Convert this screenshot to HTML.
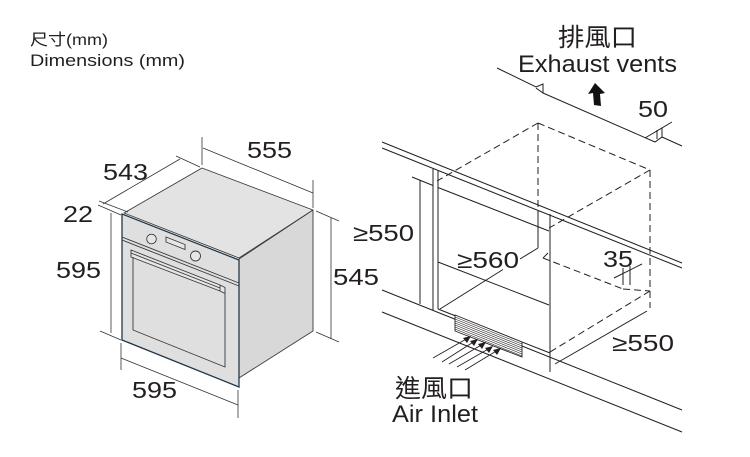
<!DOCTYPE html>
<html>
<head>
<meta charset="utf-8">
<style>
  html,body{margin:0;padding:0;background:#fff;}
  svg{display:block;}
  text{font-family:"Liberation Sans","Noto Sans CJK TC",sans-serif;fill:#231f20;}
</style>
</head>
<body>
<svg width="750" height="457" viewBox="0 0 750 457" xmlns="http://www.w3.org/2000/svg">
  <!-- Header -->
  <text x="30" y="45" font-size="16" textLength="78" lengthAdjust="spacingAndGlyphs">尺寸(mm)</text>
  <text x="30" y="66" font-size="17" textLength="155" lengthAdjust="spacingAndGlyphs">Dimensions (mm)</text>

  <!-- ===== OVEN ===== -->
  <g stroke="#3a3a3a" stroke-width="0.9" stroke-linejoin="round">
    <polygon points="124,213 202,168 313,210 239,258" fill="#e3e3e3"/>
    <polygon points="239,259 313,210 313,331 239,378" fill="#d8d8d8"/>
  </g>
  <polygon points="122,214 239,260 239,387 122,340" fill="#dfdfdf" stroke="#23384a" stroke-width="1.3"/>
  <g stroke="#3a3a3a" stroke-width="0.9" fill="none">
    <!-- control divider double line -->
    <line x1="122" y1="237" x2="239" y2="283"/>
    <line x1="122" y1="240" x2="239" y2="286"/>
    <!-- knobs -->
    <circle cx="151.5" cy="239" r="4.8" fill="#e6e6e6"/>
    <circle cx="195.5" cy="256" r="5" fill="#e6e6e6"/>
    <!-- display -->
    <polygon points="166,237 185,244.5 185,249.5 166,242" fill="#e6e6e6"/>
    <!-- handle -->
    <polygon points="131,250 220,285 225,287.5 225,293.5 220,291 131,257" fill="#e6e6e6"/>
    <line x1="220" y1="285" x2="220" y2="291"/>
    <line x1="131" y1="253" x2="220" y2="288"/>
    <!-- door -->
    <polyline points="133,257 133,330 225,367 225,294"/>
  </g>

  <!-- oven dimension lines -->
  <g stroke="#333" stroke-width="0.8" fill="none">
    <!-- 543 -->
    <line x1="103" y1="204" x2="180" y2="159"/>
    <line x1="176" y1="156" x2="200" y2="167"/>
    <!-- 22 -->
    <line x1="99" y1="201" x2="128" y2="212"/>
    <line x1="98" y1="205" x2="121" y2="215"/>
    <!-- 595 left -->
    <line x1="111" y1="213" x2="111" y2="333"/>
    <line x1="100" y1="331" x2="121" y2="340"/>
    <!-- 555 -->
    <line x1="203" y1="148" x2="313" y2="193"/>
    <line x1="202" y1="137" x2="202" y2="165"/>
    <line x1="313" y1="180" x2="313" y2="208"/>
    <!-- 545 -->
    <line x1="316" y1="211" x2="339" y2="221"/>
    <line x1="316" y1="332" x2="339" y2="342"/>
    <line x1="331" y1="218" x2="331" y2="339"/>
    <!-- 595 bottom -->
    <line x1="121" y1="358" x2="238" y2="405"/>
    <line x1="121" y1="343" x2="121" y2="370"/>
    <line x1="238" y1="390" x2="238" y2="418"/>
  </g>
  <text x="247" y="158" font-size="23" textLength="45" lengthAdjust="spacingAndGlyphs">555</text>
  <text x="103" y="180" font-size="23" textLength="45" lengthAdjust="spacingAndGlyphs">543</text>
  <text x="63" y="222" font-size="23" textLength="30" lengthAdjust="spacingAndGlyphs">22</text>
  <text x="56" y="278" font-size="23" textLength="45" lengthAdjust="spacingAndGlyphs">595</text>
  <text x="132" y="398" font-size="23" textLength="45" lengthAdjust="spacingAndGlyphs">595</text>
  <text x="333" y="285" font-size="23" textLength="46" lengthAdjust="spacingAndGlyphs">545</text>

  <!-- ===== CABINET ===== -->
  <g stroke="#231f20" stroke-width="1" fill="none">
    <!-- exhaust line -->
    <path d="M497,68 L536,87 L543,84 L543,93 L536,88 M543,93 L655,142 L662,137 L682,146"/>
    <line x1="657" y1="130" x2="657" y2="139"/>
    <line x1="662" y1="128" x2="662" y2="137"/>
    <line x1="645" y1="138" x2="672" y2="122"/>
    <!-- countertop -->
    <line x1="382" y1="142" x2="682" y2="263"/>
    <line x1="382" y1="148" x2="682" y2="268"/>
    <!-- post -->
    <line x1="433" y1="169" x2="433" y2="310"/>
    <line x1="438" y1="171" x2="438" y2="309"/>
    <!-- >=550 dim -->
    <line x1="420" y1="180" x2="420" y2="304"/>
    <line x1="412" y1="177" x2="433" y2="185.5"/>
    <line x1="438" y1="187.5" x2="549" y2="231"/>
    <!-- niche verticals -->
    <line x1="538" y1="213" x2="538" y2="248"/>
    <line x1="550" y1="214" x2="550" y2="372"/>
    <!-- >=560 line -->
    <line x1="538" y1="248" x2="520" y2="259"/>
    <line x1="503" y1="269.5" x2="440" y2="309"/>
    <!-- floor lines -->
    <line x1="438" y1="262" x2="549" y2="305"/>
    <line x1="438" y1="309" x2="550" y2="353"/>
    <line x1="382" y1="290" x2="682" y2="410"/>
    <line x1="382" y1="312" x2="682" y2="432"/>
    <!-- 35 dim -->
    <line x1="623" y1="268" x2="623" y2="285"/>
    <line x1="630" y1="266" x2="630" y2="285"/>
    <line x1="614" y1="278" x2="642" y2="264"/>
    <!-- >=550 lower dim -->
    <line x1="647" y1="311" x2="555" y2="364"/>
  </g>

  <!-- dashed niche -->
  <g stroke="#231f20" stroke-width="1" fill="none" stroke-dasharray="7,4">
    <line x1="538" y1="123" x2="437" y2="181"/>
    <line x1="538" y1="123" x2="650" y2="170"/>
    <line x1="650" y1="170" x2="549" y2="228"/>
    <line x1="538" y1="123" x2="538" y2="213"/>
    <line x1="650" y1="170" x2="650" y2="308"/>
    <line x1="548" y1="253" x2="543" y2="258"/>
    <line x1="543" y1="258" x2="623" y2="289"/>
    <line x1="623" y1="289" x2="650" y2="291"/>
    <line x1="650" y1="291" x2="550" y2="352"/>
  </g>

  <!-- air inlet vent -->
  <polygon points="455,315 522,342 522,357 455,331" fill="#fff" stroke="#231f20" stroke-width="0.9"/>
  <g stroke="#231f20" stroke-width="0.6">
    <line x1="455" y1="317" x2="522" y2="344"/>
    <line x1="455" y1="319" x2="522" y2="346"/>
    <line x1="455" y1="321" x2="522" y2="348"/>
    <line x1="455" y1="323" x2="522" y2="350"/>
    <line x1="455" y1="325" x2="522" y2="352"/>
    <line x1="455" y1="327" x2="522" y2="354"/>
    <line x1="455" y1="329" x2="522" y2="356"/>
  </g>
  <!-- inlet arrows -->
  <g stroke="#231f20" stroke-width="0.9">
    <line x1="433" y1="358" x2="468" y2="338"/>
    <line x1="442" y1="362" x2="475" y2="341"/>
    <line x1="449" y1="364" x2="483" y2="344"/>
    <line x1="457" y1="367" x2="490" y2="348"/>
    <line x1="465" y1="370" x2="498" y2="350"/>
  </g>
  <g fill="#231f20">
    <polygon points="471,336 463,338 467,343"/>
    <polygon points="478,339 470,341 474,346"/>
    <polygon points="486,342 478,344 482,349"/>
    <polygon points="493,346 485,348 489,353"/>
    <polygon points="501,348 493,350 497,355"/>
  </g>

  <!-- exhaust arrow -->
  <polygon points="595,83 588,94 593,93 594,105 601,106 600,94 605,93" fill="#111"/>

  <!-- cabinet labels -->
  <text x="558" y="46" font-size="25" textLength="79" lengthAdjust="spacingAndGlyphs">排風口</text>
  <text x="518" y="72" font-size="24" textLength="159" lengthAdjust="spacingAndGlyphs">Exhaust vents</text>
  <text x="638" y="117" font-size="23" textLength="30" lengthAdjust="spacingAndGlyphs">50</text>
  <text x="353" y="241" font-size="23" textLength="61" lengthAdjust="spacingAndGlyphs">≥550</text>
  <text x="457" y="268" font-size="23" textLength="62" lengthAdjust="spacingAndGlyphs">≥560</text>
  <text x="603" y="267" font-size="23" textLength="30" lengthAdjust="spacingAndGlyphs">35</text>
  <text x="612" y="351" font-size="23" textLength="62" lengthAdjust="spacingAndGlyphs">≥550</text>
  <text x="395" y="397" font-size="25" textLength="78" lengthAdjust="spacingAndGlyphs">進風口</text>
  <text x="392" y="422" font-size="24" textLength="86" lengthAdjust="spacingAndGlyphs">Air Inlet</text>
</svg>
</body>
</html>
